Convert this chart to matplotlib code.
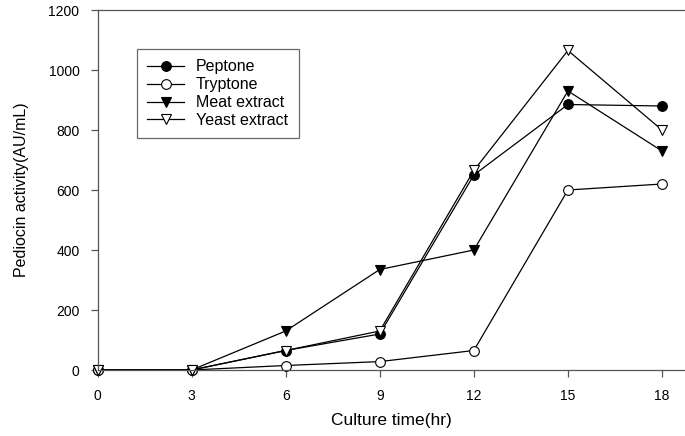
import matplotlib
matplotlib.use("Agg")
import matplotlib.pyplot as plt

time = [0, 3, 6, 9, 12, 15, 18]
peptone = [0, 0, 65, 120, 650, 885, 880]
tryptone = [0, 0, 15, 28, 65, 600, 620]
meat = [0, 0, 130, 335, 400, 930, 730]
yeast = [0, 0, 65, 130, 665, 1065, 800]

plt.rcParams['font.family'] = ['Liberation Sans', 'DejaVu Sans']

fig = plt.figure(figsize=(6.85, 4.36), dpi=100)
left_px, right_px = 97.5, 685
x18_px = 662
ax = fig.add_axes([left_px/685, 1 - 370/436, (right_px - left_px)/685, 360/436])

kw = dict(color='black', lw=0.9, markersize=7, clip_on=False, markeredgewidth=0.8)
ax.plot(time, peptone, marker='o', mfc='black', mec='black', label='Peptone', **kw)
ax.plot(time, tryptone, marker='o', mfc='white', mec='black', label='Tryptone', **kw)
ax.plot(time, meat, marker='v', mfc='black', mec='black', label='Meat extract', **kw)
ax.plot(time, yeast, marker='v', mfc='white', mec='black', label='Yeast extract', **kw)

ax.set_xlim(0, 18 * (right_px - left_px) / (x18_px - left_px))
ax.set_ylim(0, 1200)
ax.set_xticks(time)
ax.set_yticks(range(0, 1201, 200))
ax.spines['right'].set_visible(False)
for s in ['left', 'bottom', 'top']:
    ax.spines[s].set_color('#555555')
    ax.spines[s].set_linewidth(0.9)
ax.tick_params(direction='out', length=5, width=0.9, color='#555555', labelsize=10)
ax.tick_params(axis='y', pad=8)
ax.tick_params(axis='x', pad=9)

ax.set_xlabel('Culture time(hr)', fontsize=12.5, labelpad=7)
ax.set_ylabel('Pediocin activity(AU/mL)', fontsize=11.5, labelpad=14)

leg = ax.legend(loc='upper left', bbox_to_anchor=((137 - left_px) / (right_px - left_px), (370 - 49) / 360),
                fontsize=11.5, frameon=True, fancybox=False, edgecolor='#444444', handlelength=2.3,
                borderpad=0.65, labelspacing=0.18, handletextpad=0.75, borderaxespad=0)
leg.get_frame().set_linewidth(0.9)

fig.savefig('out.png', dpi=100)
